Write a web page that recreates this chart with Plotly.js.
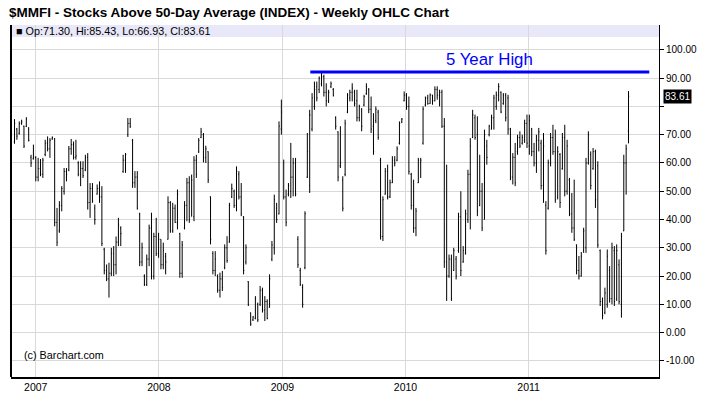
<!DOCTYPE html>
<html><head><meta charset="utf-8">
<script src="https://cdn.plot.ly/plotly-3.0.1.min.js"></script>
<style>html,body{margin:0;padding:0;background:#fff}#chart{width:705px;height:393px}</style>
</head><body><div id="chart"></div>
<script>
// Weekly bars, first bar week of 2006-10-30
const firstWeekUTC = Date.UTC(2006, 9, 30);

const opens = [
67.5,72,70.5,74,73,73,72,62,61.5,62,55,58,56,63,67,65,68.5,68.5,39,36,45,50,57,57.5,65,66.5,62,60,56,58,57.5,62,46,51,44,49,51,48,29.5,22,19,21,28,24,
32,37,57,61,70,74,68,53,55,42,25,20,17,26,37,20,34,28,33,24,27,33,46,36,44,39,35,21,37,45,53,41,41,61,64,69,70,62,64,48,28,22,20,
15,19,23,30,32,48,50,45,56,48,41,25,18,7,4.5,5,10,10,15,8,11,9,26,30,44,42,72,60,48,49,50,55,60,33,22,16,23,55,52,72,80,87,86,88,
90.5,85,82,87,86,76,71,59,54,56,78,83,85,85,82,76,79,80.5,84.5,86,79,73,75,78,61,34,49,57,48,53,61,61,67,74.5,82,84,80,56,45,37,53,60,67,
80.5,83,81,84,82,86,84,85,73,25,20,26,22,26,29,41,25,28,40,56,69,76,70,45,50,40,66,70,72,76,80,84,85,81,84,83,72,55,62,64,69,67,68,74,
66,72,64,60,68,67,52,45,44,60,69,64,48,63,58,69,50,54,42,37,31,22,20,29,30,60,63,58,64,59,29,11,7,10,22,12,29,12,24,10,36,60,71.30
];
const highs = [
75.5,72.4,74.7,75.3,73.2,76.2,72.7,62.9,66.5,62.4,61.8,61.4,61.8,68.2,69.4,68.8,69.4,68.8,44.1,46.5,51.8,58.2,58.2,66.0,68.5,67.6,68.2,60.6,60.6,60.6,62.9,63.5,52.9,52.9,45.3,52.4,53.5,51.8,30.0,24.1,24.7,30.0,30.6,34.0,
40.6,37.6,62.9,63.5,75.9,75.9,68.5,57.1,57.1,42.4,31.8,20.6,27.6,38.2,42.4,35.3,40.6,35.3,33.0,31.8,28.2,48.2,46.5,45.9,45.3,50.6,35.3,32.4,46.5,54.7,55.3,55.9,62.4,62.9,68.8,72.4,70.6,66.1,64.1,48.2,28.8,28.8,20.6,
21.2,21.8,31.2,34.1,45.9,52.7,50.6,58.8,57.1,52.9,41.2,31.2,18.2,7.1,5.9,12.9,10.6,16.5,15.9,12.9,11.8,20.6,32.4,48.8,45.9,74.7,82.4,61.2,50.6,52.9,67.1,61.8,61.8,34.1,22.9,17.1,42.9,70.6,78.8,84.7,88.8,88.8,90.6,91.8,
91.2,88.2,85.9,88.8,86.5,76.5,71.2,73.0,55.3,75.3,84.7,85.9,88.2,85.9,85.9,80.6,79.4,84.1,88.2,86.5,83.5,77.6,80.0,78.8,61.8,48.2,58.2,59.4,54.1,62.4,62.4,65.9,74.7,75.9,85.3,84.7,83.5,56.5,54.1,44.1,61.8,61.8,80.0,
83.5,84.1,84.6,84.1,87.1,87.1,85.9,85.9,75.9,59.4,27.6,27.6,30.0,27.1,42.4,50.0,30.6,43.5,57.6,68.8,78.8,77.1,76.5,62.9,52.9,71.8,68.2,73.5,77.1,84.1,85.3,88.2,85.3,84.7,84.7,84.1,72.4,63.5,67.1,70.0,71.2,70.0,75.3,77.1,
77.1,72.4,67.1,70.0,72.4,68.2,70.6,46.5,61.2,70.6,73.5,71.8,65.9,63.5,70.6,73.5,68.2,54.7,49.4,54.1,31.2,27.1,28.5,37.1,61.8,71.2,64.1,65.3,64.7,60.6,29.4,12.4,15.9,29.4,23.5,31.8,30.6,31.2,25.9,35.3,62.9,66.5,85.43
];
const lows = [
66.8,68.2,70.0,73.5,65.3,72.7,67.6,58.6,61.2,53.5,53.5,55.3,54.7,62.4,64.1,61.8,68.2,37.6,30.6,35.3,42.9,48.8,53.5,57.1,62.9,61.2,61.2,55.3,51.8,54.7,57.1,43.5,40.6,45.9,38.2,48.8,45.9,30.6,20.6,18.2,12.4,20.0,20.0,20.6,
30.6,30.6,56.5,56.5,69.2,72.4,51.2,51.2,43.5,23.5,23.5,16.5,16.5,23.5,18.8,18.8,27.1,26.5,22.4,22.4,20.6,32.9,35.3,35.3,38.8,36.5,19.4,19.4,36.5,39.4,38.8,41.2,39.4,54.7,63.5,68.8,60.2,60.0,52.9,31.2,20.6,20.0,14.1,
12.4,14.7,22.4,24.7,31.8,47.6,44.1,42.9,47.1,41.2,20.6,24.1,9.4,2.4,4.1,4.7,3.8,9.4,7.1,4.1,4.7,8.8,25.3,27.6,38.8,41.8,70.0,47.1,37.6,48.2,47.6,48.2,48.2,22.9,16.5,8.8,22.4,54.7,49.4,71.2,78.8,81.8,84.7,87.1,
83.5,80.0,81.2,86.5,83.5,71.8,53.5,58.2,42.9,55.3,77.6,81.8,81.8,80.0,74.7,74.7,71.2,80.0,84.1,77.6,70.6,62.9,74.1,68.2,32.9,32.4,48.8,47.1,47.6,52.9,58.8,60.6,66.5,74.1,81.8,78.8,55.9,43.5,35.3,34.1,52.9,54.7,66.5,
80.0,80.6,80.9,80.6,81.8,82.4,80.0,72.4,22.9,11.2,19.4,11.2,21.8,18.8,28.2,20.0,24.7,27.6,38.8,36.5,68.8,68.2,41.2,44.7,35.9,40.0,59.4,69.4,71.8,71.8,78.8,81.8,77.6,80.6,74.7,70.0,53.9,52.4,51.8,62.9,65.3,66.5,67.1,65.3,
62.9,62.4,58.8,56.5,64.1,50.6,45.9,27.6,43.5,58.8,62.9,45.9,47.1,44.1,57.6,48.2,48.8,41.2,35.3,32.4,20.6,18.8,19.8,28.2,28.2,59.4,50.6,57.6,44.1,30.0,9.4,4.7,6.5,8.8,10.6,10.0,9.4,11.2,10.0,5.3,35.9,48.8,66.93
];
const closes = [
74,69.5,74,74.5,66,75.5,68,60,62,55,58,56,61,67,65,68,69,39,32,45,51,57,56,65,66.5,62,62.5,56,58,55.5,62,46,51,46.5,40,51,48,31.5,22,19,21,28,24,32,
38,35,61,63,74,73,53,55,44,25,30,17,26,37,20,34,28,33,24,29,25,46,36,44,39,49,21,31,45,53,40,54,61,56,68,71,62,65,54,33,22,26,15,
19,16,30,25.5,45,51,45,57,48,42,22,30,10,3,5.5,12,4.5,15,8,11,5,19,31,47,40,73,78,48,39,52,55,60,49,24,17,10,42,64,77,83,86,83,90,90.5,
85,82,85,88,84,73,55,60,44,74,84,85,86.5,81,76,80,73,83.5,87,79,72,64,79,69,34,47,57,48,53,61,60,65,74,75.5,84,80,57,45,37,43,61,61,79,
83,81,84,82,86,84,85,73,25,20,26,12,29,20,41,22,29,42,56,66,77,69,43,50,37,70,62,73,76,83,84,87,78,84,76,72,55,62,53,69,66,69,74,67,
75,64,60,68,71,52,66,29,60,69,64,47,64,46,69,50,66,42,37,33,22,20,27,36,60,70,52,64,47,31,11,6,14,27,12,30,11,29,11,34,60,65,83.61
];

const yearLabels = ['2007','2008','2009','2010','2011'];
const yTickValues = [-10,0,10,20,30,40,50,60,70,80,90,100];
const lastClose = 83.61;
const fiveYearHigh = 92.2;
const fiveYearHighLabel = '5 Year High';
const legendText = '\u25A0 Op:71.30, Hi:85.43, Lo:66.93, Cl:83.61';
const titleText = '$MMFI - Stocks Above 50-Day Average (INDEX) - Weekly OHLC Chart';

const dates = opens.map((_, i) => new Date(firstWeekUTC + i * 7 * 864e5).toISOString().slice(0, 10));
const yTickText = yTickValues.map(v => (Math.abs(v - lastClose) < 5 ? '' : v.toFixed(2)));

const FONT = 'Arial, "Liberation Sans", sans-serif';

const trace = {
  type: 'ohlc', x: dates, open: opens, high: highs, low: lows, close: closes,
  increasing: {line: {color: '#000000', width: 1}},
  decreasing: {line: {color: '#000000', width: 1}},
  tickwidth: 0.3, hoverinfo: 'skip'
};

const layout = {
  width: 705, height: 393,
  margin: {l: 11, r: 46, t: 25, b: 16, pad: 0},
  paper_bgcolor: '#ffffff', plot_bgcolor: '#ffffff',
  showlegend: false,
  font: {family: FONT, size: 10, color: '#000'},
  title: {
    text: titleText, xref: 'container', yref: 'container',
    x: 9 / 705, xanchor: 'left', y: 1 - 12 / 393, yanchor: 'middle',
    font: {family: FONT, size: 13.5, color: '#000', weight: 'bold'}
  },
  xaxis: {
    type: 'date', range: ['2006-10-19 14:00', '2012-01-22 09:00'],
    rangeslider: {visible: false},
    tickvals: yearLabels.map(y => y + '-01-01'), ticktext: yearLabels,
    showgrid: true, gridcolor: '#D9D9D9', gridwidth: 1,
    ticks: '', showline: true, linecolor: '#000', linewidth: 1.5,
    tickfont: {family: FONT, size: 10.5, color: '#000'}, fixedrange: true
  },
  yaxis: {
    side: 'right', range: [-15.7, 108.8],
    tickvals: yTickValues, ticktext: yTickText,
    showgrid: true, gridcolor: '#D9D9D9', gridwidth: 1, zeroline: false,
    ticks: 'outside', ticklen: 4, tickcolor: '#000', tickwidth: 1,
    showline: true, linecolor: '#000', linewidth: 1,
    tickfont: {family: FONT, size: 10, color: '#000'}, fixedrange: true
  },
  shapes: [
    {type: 'rect', xref: 'paper', yref: 'paper', x0: 0, x1: 1, y0: 1 - 12 / 352, y1: 1,
     fillcolor: '#E8E8F8', line: {width: 0}, layer: 'below'},
    {type: 'line', xref: 'paper', yref: 'paper', x0: 0, x1: 0, y0: 0, y1: 1,
     line: {color: '#000', width: 2}},
    {type: 'line', xref: 'paper', yref: 'y', x0: 0.4619, x1: 0.985, y0: fiveYearHigh, y1: fiveYearHigh,
     line: {color: '#0000FF', width: 3}}
  ],
  annotations: [
    {text: legendText, xref: 'paper', yref: 'paper', x: 0.004, y: 1 - 6 / 352,
     xanchor: 'left', yanchor: 'middle', showarrow: false, font: {family: FONT, size: 10.8, color: '#000'}},
    {text: fiveYearHighLabel, xref: 'paper', yref: 'y', x: 0.7377, y: 96.7,
     xanchor: 'center', yanchor: 'middle', showarrow: false, font: {family: FONT, size: 16.8, color: '#0000FF'}},
    {text: '(c) Barchart.com', xref: 'paper', yref: 'y', x: 0.017, y: -7.9,
     xanchor: 'left', yanchor: 'middle', showarrow: false, font: {family: FONT, size: 10.8, color: '#000'}},
    {text: lastClose.toFixed(2), xref: 'paper', yref: 'y', x: 1, y: lastClose, xshift: 4,
     xanchor: 'left', yanchor: 'middle', showarrow: false, bgcolor: '#000', borderpad: 1,
     font: {family: FONT, size: 10, color: '#fff'}}
  ]
};

Plotly.newPlot('chart', [trace], layout, {staticPlot: true, displayModeBar: false});
</script>
</body></html>
